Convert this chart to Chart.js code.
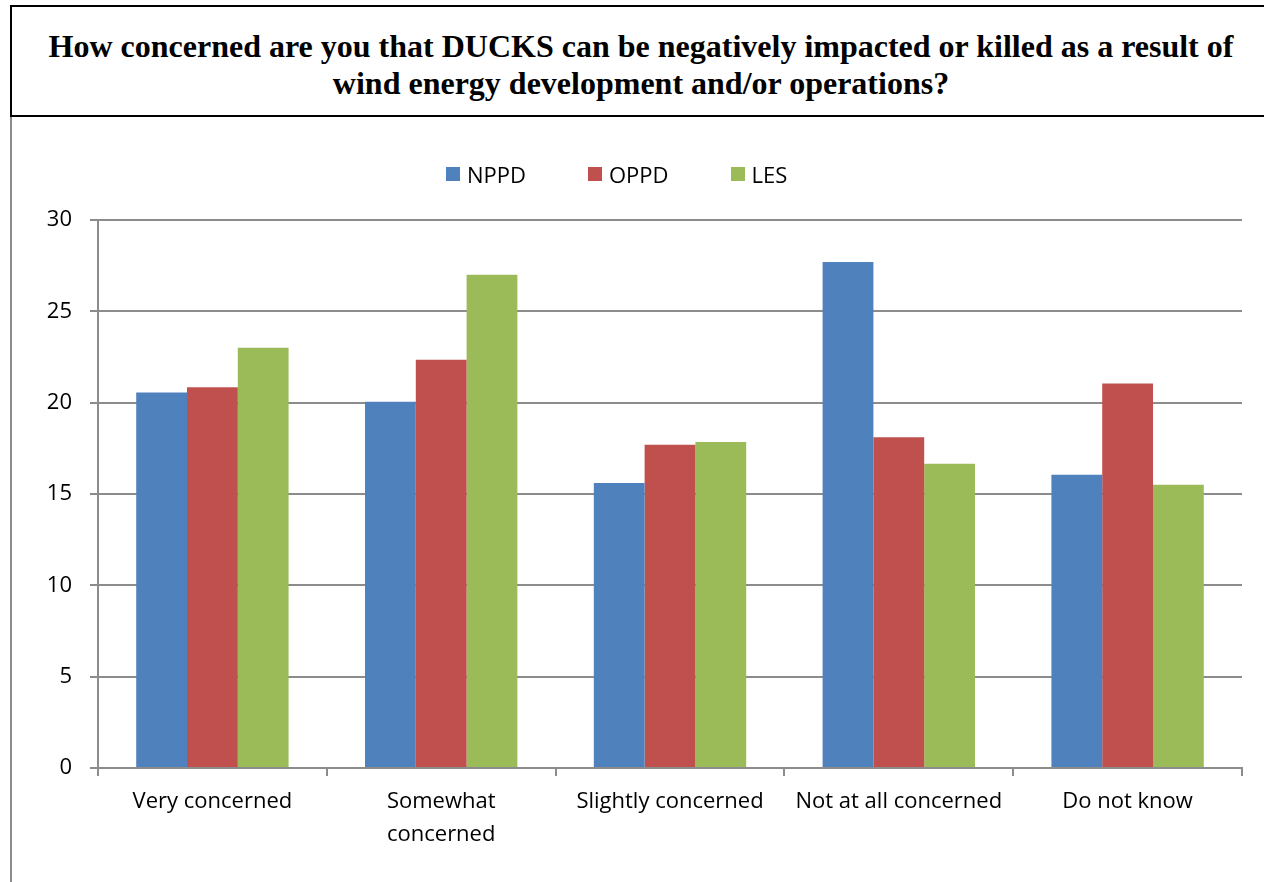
<!DOCTYPE html>
<html>
<head>
<meta charset="utf-8">
<script src="https://cdn.jsdelivr.net/npm/chart.js@4.4.1/dist/chart.umd.min.js"></script>
<style>
    body { margin: 0; background: #fff; width: 1264px; height: 882px; overflow: hidden; position: relative; }
    #title {
        position: absolute; left: 10px; top: 5px; width: 1262px; height: 112px;
        border: 2px solid #000; box-sizing: border-box;
        font: bold 32px "Liberation Serif", "Times New Roman", serif;
        line-height: 37px; text-align: center; padding-top: 21px;
        color: #000; white-space: nowrap;
    }
    #chartBox {
        position: absolute; left: 10px; top: 117px; width: 1254px; height: 765px;
        border-left: 2px solid #8c8c8c;
    }
    #canvasWrap { position: absolute; left: 2px; top: 1px; width: 1252px; height: 764px; }
    #legend {
        position: absolute; left: 446px; top: 159px; display: flex; align-items: center;
        font: 22px "Open Sans", sans-serif; color: #000;
    }
    .item { display: flex; align-items: center; margin-right: 62px; }
    .box { width: 14px; height: 14px; margin-right: 7px; }
</style>
</head>
<body>
<div id="title">How concerned are you that DUCKS can be negatively impacted or killed as a result of<br>wind energy development and/or operations?</div>
<div id="chartBox"><div id="canvasWrap"><canvas id="duckChart"></canvas></div></div>
<div id="legend"></div>
<script>
// data
const categories = ['Very concerned', ['Somewhat', 'concerned'], 'Slightly concerned', 'Not at all concerned', 'Do not know'];
const seriesNames = ['NPPD', 'OPPD', 'LES'];
const nppd = [20.55, 20.05, 15.6, 27.7, 16.05];
const oppd = [20.85, 22.35, 17.7, 18.1, 21.05];
const les = [23.0, 27.0, 17.85, 16.65, 15.5];
const colors = ['#4F81BD', '#C0504D', '#9BBB59'];

const fontFamily = '"Open Sans", sans-serif';
const gridColor = '#8c8c8c';

const datasets = [nppd, oppd, les].map((values, i) => ({
    label: seriesNames[i],
    data: values,
    backgroundColor: colors[i],
    borderWidth: 0,
    categoryPercentage: 0.666,
    barPercentage: 1
}));

const chart = new Chart(document.getElementById('duckChart').getContext('2d'), {
    type: 'bar',
    data: { labels: categories, datasets: datasets },
    options: {
        responsive: true,
        maintainAspectRatio: false,
        animation: false,
        layout: { padding: { top: 102, right: 24, left: 0, bottom: 0 } },
        plugins: {
            legend: { display: false },
            tooltip: { enabled: false }
        },
        scales: {
            x: {
                grid: { offset: true, drawOnChartArea: false, color: gridColor, lineWidth: 2, tickLength: 8 },
                border: { color: gridColor, width: 2 },
                ticks: {
                    color: '#000', maxRotation: 0, autoSkip: false, padding: 9,
                    font: { family: fontFamily, size: 22, lineHeight: 1.5 }
                },
                afterFit: scale => { scale.height = 114; }
            },
            y: {
                min: 0, max: 30,
                grid: { color: gridColor, lineWidth: 2, tickLength: 8 },
                border: { color: gridColor, width: 2 },
                ticks: {
                    stepSize: 5, color: '#000', padding: 18,
                    font: { family: fontFamily, size: 22 }
                },
                afterFit: scale => { scale.width = 84; }
            }
        }
    }
});

// legend built from the datasets
const legendDiv = document.getElementById('legend');
chart.data.datasets.forEach(ds => {
    const item = document.createElement('div');
    item.className = 'item';
    item.innerHTML = `<span class="box" style="background:${ds.backgroundColor}"></span><span>${ds.label}</span>`;
    legendDiv.appendChild(item);
});
</script>
</body>
</html>
